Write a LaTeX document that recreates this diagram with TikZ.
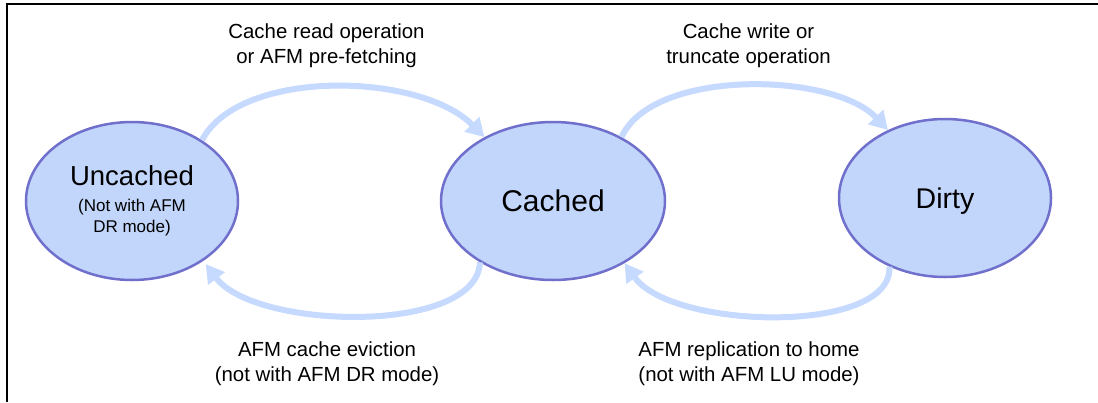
\documentclass[tikz,border=0pt]{standalone}
\usepackage{fontspec}
\setmainfont{Liberation Sans}
\usetikzlibrary{shapes.geometric,arrows.meta}
\definecolor{statefill}{RGB}{194,214,252}
\definecolor{stateline}{RGB}{112,112,204}
\definecolor{flowblue}{RGB}{198,217,254}
\begin{document}
\begin{tikzpicture}[x=1pt,y=-1pt,
        state/.style={ellipse,draw=stateline,fill=statefill,line width=2.5pt,minimum width=212pt,minimum height=158pt,inner sep=0pt,align=center},
        flow/.style={draw=flowblue,line width=6pt,-{Triangle[length=18pt,width=20pt]}},
        lbl/.style={align=center,font=\fontsize{20.4}{25}\selectfont}]
    \useasboundingbox(0,0)rectangle(1098,402);
    \draw[line width=1.5pt](1098,4)--(7,4)--(7,402);
    \node[state,font=\fontsize{17}{21}\selectfont](unc)at(132,201){{\fontsize{27.5}{30}\selectfont Uncached}\\[5pt](Not with AFM\\DR mode)};
    \node[state,minimum width=224pt,font=\fontsize{30}{34}\selectfont](cac)at(553,201){Cached};
    \node[state,text depth=0pt,font=\fontsize{28.5}{32}\selectfont](dty)at(945,198){Dirty};
    \draw[flow](unc.41)..controls(240,68)and(420,72)..(cac.137);
    \draw[flow](cac.43)..controls(653,68)and(833,72)..(dty.130);
    \draw[flow,shorten >=4pt](cac.220)..controls(477,335)and(255,330)..(unc.320);
    \draw[flow](dty.231)..controls(893,335)and(672,330)..(cac.319);
    \node[lbl](rd)at(326.5,46){Cache read operation\\or AFM pre-fetching};
    \node[lbl](wr)at(748.5,46){Cache write or\\truncate operation};
    \node[lbl](ev)at(327,364){AFM cache eviction\\(not with AFM DR mode)};
    \node[lbl](rp)at(749,364){AFM replication to home\\(not with AFM LU mode)};
\end{tikzpicture}
\end{document}
